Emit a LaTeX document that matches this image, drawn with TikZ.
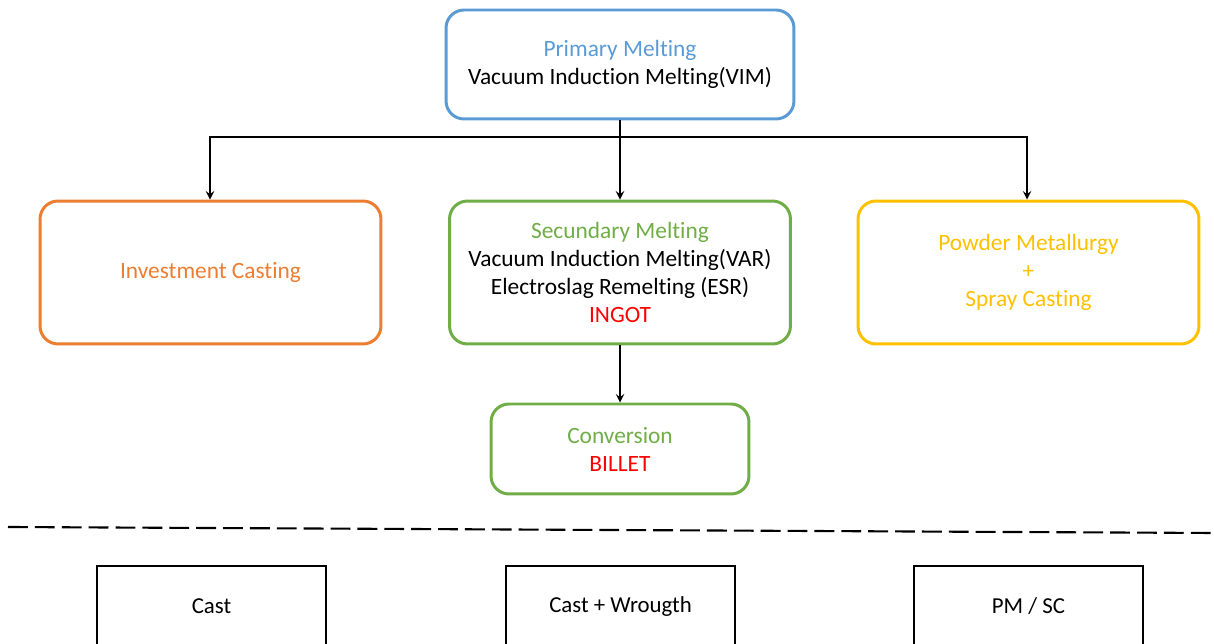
\documentclass[tikz,border=0pt]{standalone}
\usepackage{fontspec}
\setmainfont[Ligatures=NoCommon]{Carlito}
\usepackage{xcolor}
\usetikzlibrary{calc, positioning}

\definecolor{vimblue}{RGB}{91,155,213}
\definecolor{castorange}{RGB}{237,125,49}
\definecolor{meltgreen}{RGB}{112,173,71}
\definecolor{pmgold}{RGB}{255,192,0}
\definecolor{ingotred}{RGB}{255,0,0}

\tikzset{
    procbox/.style={draw=#1, line width=1.7pt, rounded corners=0.36cm, align=center,
        font=\fontsize{13.3}{15.9}\selectfont, inner sep=0pt},
    classbox/.style={draw=black, line width=1.1pt, align=center,
        minimum width=4.58cm, minimum height=1.62cm, font=\fontsize{13}{15}\selectfont},
    flow/.style={->, line width=1.1pt}
}

\begin{document}
\begin{tikzpicture}[>=stealth, x=0.02cm, y=-0.02cm]
    % Bild-Rahmen
    \useasboundingbox (0,0) rectangle (1214,644);
    \clip (0,0) rectangle (1214,644);

    % Schmelzstufen
    \node[procbox=vimblue, minimum width=6.96cm, minimum height=2.18cm] (vim) at (620,64.5)
        {\textcolor{vimblue}{Primary Melting}\\Vacuum Induction Melting(VIM)};
    \node[procbox=castorange, minimum width=6.82cm, minimum height=2.86cm] (invest) at (210.5,272.5)
        {\textcolor{castorange}{Investment Casting}};
    \node[procbox=meltgreen, minimum width=6.82cm, minimum height=2.86cm] (secmelt) at (620,272.5)
        {\textcolor{meltgreen}{Secundary Melting}\\Vacuum Induction Melting(VAR)\\Electroslag Remelting (ESR)\\\textcolor{ingotred}{INGOT}};
    \node[procbox=pmgold, minimum width=6.82cm, minimum height=2.86cm] (powder) at (1028.5,272.5)
        {\textcolor{pmgold}{Powder Metallurgy}\\\textcolor{pmgold}{+}\\\textcolor{pmgold}{Spray Casting}};
    \node[procbox=meltgreen, minimum width=5.16cm, minimum height=1.8cm] (conv) at (620,449)
        {\textcolor{meltgreen}{Conversion}\\\textcolor{ingotred}{BILLET}};

    % Verbindungen
    \coordinate (split) at (620,137);
    \draw[line width=1.1pt] (vim.south) -- (split);
    \draw[flow] (split) -| (invest.north -| 210,0);
    \draw[flow] (split) -| (powder.north -| 1027,0);
    \draw[flow] (split) -- (secmelt.north);
    \draw[flow] (secmelt.south) -- (conv.north);

    % Trennlinie
    \coordinate (sepL) at (8,527);
    \coordinate (sepR) at (1214,533);
    \draw[line width=1.2pt, dash pattern=on 11.3pt off 4pt] (sepL) -- (sepR);

    % Werkstoffklassen
    \node[classbox, anchor=north] (cast) at (211.5,565) {Cast};
    \node[classbox, anchor=north] (wrought) at (620.5,565) {Cast + Wrougth};
    \node[classbox, anchor=north] (pmsc) at (1028.5,565) {PM / SC};
\end{tikzpicture}
\end{document}
